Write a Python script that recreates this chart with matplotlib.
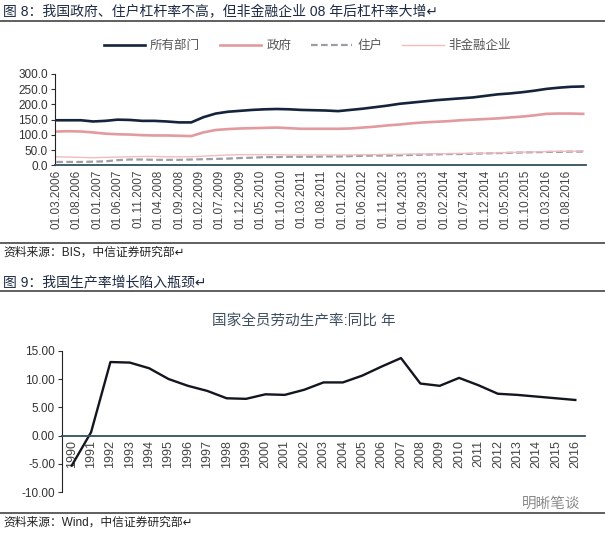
import numpy as np
import pandas as pd
import matplotlib
matplotlib.use("Agg")
import matplotlib.pyplot as plt
from matplotlib.lines import Line2D

plt.rcParams['font.family'] = ['Liberation Sans', 'Noto Sans CJK SC', 'DejaVu Sans']

# Figure 8: leverage by sector (quarterly, 2006-03 .. 2016-12)
quarters = pd.date_range('2006-03-01', '2016-12-01', freq='3MS')

all_sectors = [148, 148, 148, 144, 146, 150, 149, 146, 146, 144, 141, 141,
               158, 170, 176, 179, 182, 184, 185, 184, 182, 181, 180, 178,
               182, 186, 191, 196, 202, 206, 210, 214, 217, 220, 223, 228,
               233, 236, 240, 245, 251, 255, 258, 259]
government = [111, 112, 111, 108, 104, 102, 101, 99, 98, 98, 97, 96,
              108, 116, 119, 121, 122, 123, 124, 122, 120, 120, 120, 120,
              121, 124, 127, 131, 134, 138, 141, 143, 145, 148, 150, 152,
              154, 157, 160, 164, 169, 170, 170, 169]
household = [11, 11, 11, 12, 13, 17, 19, 19, 18, 18, 18, 19,
             20, 21, 22, 24, 25, 27, 27, 28, 28, 28, 29, 29,
             30, 31, 32, 32, 33, 34, 35, 36, 37, 37, 38, 39,
             40, 41, 42, 43, 44, 44, 45, 45]
nonfin_corp = [28, 27, 26, 25, 26, 27, 28, 29, 29, 28, 28, 28,
               30, 32, 34, 35, 35, 35, 35, 34, 34, 34, 34, 34,
               34, 35, 35, 36, 36, 37, 37, 38, 38, 39, 39, 40,
               41, 42, 43, 44, 45, 46, 46, 47]

date_ticks = ['01.03.2006', '01.08.2006', '01.01.2007', '01.06.2007', '01.11.2007',
              '01.04.2008', '01.09.2008', '01.02.2009', '01.07.2009', '01.12.2009',
              '01.05.2010', '01.10.2010', '01.03.2011', '01.08.2011', '01.01.2012',
              '01.06.2012', '01.11.2012', '01.04.2013', '01.09.2013', '01.02.2014',
              '01.07.2014', '01.12.2014', '01.05.2015', '01.10.2015', '01.03.2016',
              '01.08.2016']

# Figure 9: labour productivity yoy
years = list(range(1990, 2017))
productivity = [-5.3, 0.6, 13.0, 12.9, 11.9, 10.0, 8.8, 7.9, 6.6, 6.5,
                7.3, 7.2, 8.1, 9.4, 9.4, 10.6, 12.2, 13.7, 9.2, 8.8,
                10.2, 8.9, 7.4, 7.2, 6.9, 6.6, 6.3]

W, H = 605, 533
fig = plt.figure(figsize=(W / 100, H / 100), dpi=100)
fig.patch.set_facecolor('white')

def fx(px):
    return px / W

def fy(py):
    return 1 - py / H

def hline(py, color='#444444', lw=1.2):
    fig.add_artist(Line2D([0, 1], [fy(py), fy(py)], transform=fig.transFigure,
                          color=color, lw=lw))

# captions
fig.text(fx(3), fy(12), '图 8：我国政府、住户杠杆率不高，但非金融企业 08 年后杠杆率大增↵',
         fontsize=10, color='#1d2b44', va='center')
hline(21)
hline(243)
fig.text(fx(3), fy(253), '资料来源：BIS，中信证券研究部↵', fontsize=8.5, color='#222222', va='center')
fig.text(fx(3), fy(282), '图 9：我国生产率增长陷入瓶颈↵', fontsize=10, color='#1d2b44', va='center')
hline(291)
hline(513)
fig.text(fx(3), fy(523), '资料来源：Wind，中信证券研究部↵', fontsize=8.5, color='#222222', va='center')
fig.text(fx(522), fy(504), '明晰笔谈', fontsize=10.5, color='#8a8a8a', va='center')

# ---- top chart
ax1 = fig.add_axes([fx(55), fy(165.3), fx(586) - fx(55), fy(74) - fy(165.3)])
ax1.plot(quarters, all_sectors, color='#15233b', lw=1.9, label='所有部门')
ax1.plot(quarters, government, color='#e39a9e', lw=1.9, label='政府')
ax1.plot(quarters, household, color='#9c9ea6', lw=1.6, ls=(0, (3, 1.5)), label='住户')
ax1.plot(quarters, nonfin_corp, color='#f0bcbc', lw=1.0, label='非金融企业')

ax1.set_ylim(0, 300)
ax1.set_yticks([0, 50, 100, 150, 200, 250, 300])
ax1.set_yticklabels([f'{v:.1f}' for v in [0, 50, 100, 150, 200, 250, 300]])
tick_dates = pd.to_datetime(date_ticks, format='%d.%m.%Y')
ax1.set_xticks(tick_dates)
ax1.set_xticklabels(date_ticks, rotation=90)
ax1.set_xlim(pd.Timestamp('2006-02-19'), pd.Timestamp('2016-12-22'))
for s in ['top', 'right']:
    ax1.spines[s].set_visible(False)
ax1.spines['left'].set_color('#222222')
ax1.spines['bottom'].set_color('#33505f')
ax1.spines['bottom'].set_linewidth(1.3)
ax1.tick_params(axis='y', labelsize=8.5, colors='#333333', length=3, pad=2)
ax1.tick_params(axis='x', labelsize=8.5, colors='#444444', length=0, pad=3)
ax1.legend(loc='center', bbox_to_anchor=(0.4755, 1.307), ncol=4, frameon=False,
           fontsize=9, handlelength=3.3, handletextpad=0.4, columnspacing=1.6,
           labelcolor='#555555')

# ---- bottom chart
fig.text(fx(304), fy(322), '国家全员劳动生产率:同比 年', ha='center', va='center',
         fontsize=10.5, color='#3f4f60')
ax2 = fig.add_axes([fx(62), fy(492.3), fx(585) - fx(62), fy(350.7) - fy(492.3)])
# move the x axis onto the zero line first, it resets the ticks
ax2.spines['bottom'].set_position(('data', 0))
ax2.plot(years, productivity, color='#14161f', lw=1.7)
ax2.set_ylim(-10, 15)
ax2.set_yticks([-10, -5, 0, 5, 10, 15])
ax2.set_yticklabels([f'{v:.2f}' for v in [-10, -5, 0, 5, 10, 15]])
ax2.set_xlim(1989.5, 2016.5)
ax2.set_xticks(years)
ax2.set_xticklabels([str(y) for y in years], rotation=90)
for s in ['top', 'right']:
    ax2.spines[s].set_visible(False)
ax2.spines['bottom'].set_color('#33505f')
ax2.spines['bottom'].set_linewidth(1.3)
ax2.spines['left'].set_color('#222222')
ax2.tick_params(axis='y', labelsize=8.5, colors='#333333', length=3, pad=2)
ax2.tick_params(axis='x', labelsize=9, colors='#444444', length=0, pad=3, labelrotation=90)

fig.savefig('out.png', dpi=100, facecolor='white')
